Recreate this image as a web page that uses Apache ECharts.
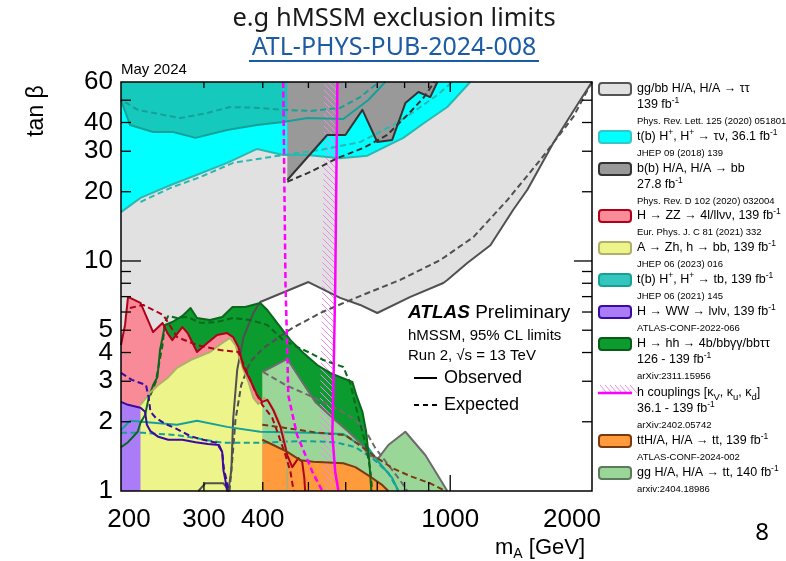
<!DOCTYPE html>
<html>
<head>
<meta charset="utf-8">
<script src="https://cdn.jsdelivr.net/npm/echarts/dist/echarts.min.js"></script>
<style>
html, body { margin: 0; padding: 0; background: #ffffff; }
#main { width: 786px; height: 561px; }
</style>
</head>
<body>
<div id="main"></div>
<script>
// ---------------- data (mA in GeV, tan beta) ----------------
// gg/bb H/A -> tautau, 139 fb-1
const tautauObs = [[2000,60],[1889,50.1],[1655,32.6],[1458,20.4],[1361,16.7],[1217,11.7],[1087,9.80],[986,8.27],[967,8.02],[823,6.98],[700,5.94],[644,6.44],[584,6.91],[500,8.10],[395,6.63],[382,5.94],[364,4.67],[353,3.36],[346,2.04],[343,1.23],[338,1],[336,1.03],[330,1.08],[302,1.08],[292,1]];
const tautauExp = [[2000,60],[1983,58.2],[1825,42.3],[1553,27.5],[1322,18.4],[1120,12.7],[953,10.1],[783,8.27],[651,7.11],[535,6.00],[462,5.11],[401,4.18],[376,3.64],[360,2.89],[350,2.04],[345,1.41],[340,1]];
// t(b) H+, H+ -> tau nu, 36.1 fb-1
const taunuObs = [[200,16.3],[220,18.8],[255,21.4],[290,23.7],[336,26.7],[389,30.7],[442,28.9],[497,28.9],[584,28.0],[667,28.7],[795,34.3],[886,40.2],[986,46.7],[1103,60]];
const taunuExp = [[220,18.05],[255,20.8],[295,23.2],[346,26.7],[401,28.0],[442,28.9],[530,30.4],[644,32.9],[757,39.0],[835,44.4],[939,52.7],[1010,60]];
// t(b) H+, H+ -> tb, 139 fb-1 (high and low tan beta)
const tbHighObs = [[200,50.1],[209,39.0],[234,36.4],[258,36.4],[288,34.3],[336,37.1],[389,39.0],[442,40.2],[497,41.8],[593,41.4],[670,50.1],[728,60]];
const tbHighExp = [[204,49.1],[217,45.4],[267,41.8],[305,44.0],[341,46.7],[395,46.3],[442,45.4],[505,44.9],[584,46.3],[644,51.6],[693,58.2],[707,60]];
const tbLowObs = [[200,1.84],[209,2.02],[234,1.98],[263,1.94],[290,2.02],[336,1.90],[395,1.81],[505,1.79],[593,1.77],[629,1.63],[670,1.54],[704,1.34],[753,1.14],[776,1]];
const tbLowExp = [[200,1.79],[223,1.79],[263,1.75],[330,1.62],[395,1.62],[485,1.65],[570,1.63],[629,1.55],[683,1.39],[739,1.20],[776,1]];
// b(b) H/A, H/A -> bb, 27.8 fb-1
const bbObs = [[451,22.5],[548,35.3],[599,35.3],[651,45.4],[700,32.9],[753,33.6],[803,48.6],[856,54.3],[907,51.6],[939,60]];
const bbExp = [[451,22.1],[505,24.4],[576,28.0],[654,31.0],[735,35.3],[811,43.1],[877,51.1],[925,60]];
// H -> ZZ -> 4l/llvv, 139 fb-1
const zzObs = [[200,4.31],[204,5.27],[207,6.98],[220,6.57],[234,4.91],[245,5.38],[251,4.86],[257,4.53],[270,5.16],[277,4.86],[290,4.02],[305,4.40],[320,4.77],[336,4.86],[346,4.67],[355,4.23],[364,3.46],[376,3.04],[389,2.61],[399,2.44],[409,2.49],[421,2.25],[436,1.90],[451,1.43],[462,1.27],[476,1.39],[485,1.34],[490,1.14],[492,1]];
const zzExp = [[209,6.25],[223,6.44],[246,5.82],[263,4.67],[290,4.31],[325,4.10],[355,4.02],[367,3.43],[386,2.69],[399,2.37],[419,2.08],[432,1.75],[447,1.43],[458,1.21],[464,1.03],[466,1]];
// A -> Zh, h -> bb, 139 fb-1
const zhObs = [[220,1],[220,2.37],[231,2.69],[240,2.89],[251,3.10],[263,3.43],[281,3.71],[309,4.02],[330,4.44],[341,4.63],[350,4.31],[364,3.36],[373,2.98],[382,2.54],[391,2.39],[403,2.54],[415,2.41],[427,2.16],[442,1.81],[451,1.43],[451,1]];
// H -> hh -> 4b/bbyy/bbtautau, 126-139 fb-1
const hhObs = [[200,1.55],[207,1.63],[217,1.81],[220,1.98],[225,2.14],[229,2.54],[234,2.89],[239,3.13],[242,4.10],[245,4.63],[248,5.27],[257,5.43],[270,5.77],[281,6.25],[290,5.65],[309,5.54],[328,5.71],[345,6.31],[367,6.31],[395,6.57],[409,6.12],[429,5.38],[458,4.53],[488,3.98],[522,3.53],[556,3.26],[590,3.10],[620,2.98],[632,2.61],[651,2.21],[663,1.81],[673,1.36],[680,1]];
const hhExp = [[231,2.61],[237,2.98],[240,3.43],[245,4.31],[248,5.43],[252,5.77],[263,5.65],[277,5.71],[295,5.38],[320,5.43],[346,5.65],[376,5.54],[409,5.27],[442,4.53],[473,4.23],[505,3.98],[538,3.71],[593,3.46],[614,2.92],[638,2.10],[660,1.63],[677,1.23],[683,1]];
// H -> WW -> lvlv, 139 fb-1
const wwObs = [[200,2.44],[207,2.37],[220,2.30],[225,2.21],[227,1.94],[231,1.82],[240,1.72],[252,1.67],[270,1.67],[288,1.63],[306,1.60],[323,1.585],[328,1.48],[330,1.23],[333,1.12],[336,1]];
const wwExp = [[200,3.26],[211,3.04],[226,2.89],[229,2.54],[231,2.21],[237,2.08],[248,1.96],[263,1.86],[281,1.73],[299,1.67],[319,1.62],[328,1.48],[331,1.23],[335,1.12],[338,1]];
// ttH/A, H/A -> tt, 139 fb-1
const tthObs = [[399,1],[399,1.67],[421,1.585],[451,1.48],[481,1.36],[512,1.34],[593,1.32],[629,1.27],[670,1.17],[718,1.06],[739,1]];
const tthExp = [[399,1.94],[447,1.88],[525,1.79],[599,1.75],[629,1.63],[693,1.41],[753,1.26],[823,1.16],[907,1.08],[976,1]];
// gg H/A, H/A -> tt, 140 fb-1
const ggttObs = [[399,1],[399,3.29],[451,3.75],[485,2.98],[517,2.44],[562,2.08],[608,1.81],[651,1.585],[670,1.43],[704,1.39],[739,1.585],[803,1.81],[886,1.43],[986,1]];
const ggttExp = [[401,3.29],[447,2.89],[500,2.61],[570,2.30],[629,2.04],[660,1.84],[693,1.54],[739,1.30],[791,1.08],[811,1]];
// h couplings [kV, ku, kd]
const hcoupObs = [[576,60],[570,7.87],[565,2.89],[562,1.75],[570,1.21],[579,1]];
const hcoupExp = [[442,60],[447,7.87],[451,4.02],[453,2.61],[473,1.75],[510,1.21],[535,1]];

// axis ticks and labels
const xTickLabels = [200, 300, 400, 1000, 2000];
const yTickLabels = [1, 2, 3, 4, 5, 10, 20, 30, 40, 60];
const xMinorTicks = [300, 400, 500, 600, 700, 800, 900];
const xMajorTicks = [1000];
const yMinorTicks = [2, 3, 4, 5, 6, 7, 8, 9, 20, 30, 40, 50];
const yMajorTicks = [10];

const X_MIN = 200, X_MAX = 2000, Y_MIN = 1, Y_MAX = 60;
const FF = '"Liberation Sans", Arial, Helvetica, sans-serif';
const TITLE_FF = '"Noto Sans", "Open Sans", sans-serif';

// ---------------- helpers ----------------
function areaSeries(poly, fill, z) {
  return {
    type: 'custom', coordinateSystem: 'cartesian2d', silent: true, z: z,
    data: [poly[0]],
    renderItem: function (params, api) {
      return {
        type: 'polygon',
        shape: { points: poly.map(function (p) { return api.coord(p); }) },
        style: { fill: fill, lineWidth: 0 }
      };
    }
  };
}
function lineSeries(data, color, dashed, width, z) {
  return {
    type: 'line', data: data, symbol: 'none', showSymbol: false, silent: true,
    z: z || 5, clip: true, animation: false,
    lineStyle: { color: color, width: width || 2, type: dashed ? [6, 3.5] : 'solid', cap: 'butt', join: 'round' }
  };
}

// hatch texture for the h-couplings band
const hatch = document.createElement('canvas');
hatch.width = 6; hatch.height = 6;
(function () {
  const c = hatch.getContext('2d');
  c.strokeStyle = '#e78be7'; c.lineWidth = 1;
  c.beginPath();
  c.moveTo(0, 0); c.lineTo(6, 6);
  c.moveTo(-1, 5); c.lineTo(1, 7);
  c.moveTo(5, -1); c.lineTo(7, 1);
  c.stroke();
})();

const C = {
  tautau: '#e1e1e1', tautauLine: '#505050',
  taunu: '#00ffff', taunuLine: '#2ab9b1',
  tb: '#16c9bd', tbLine: '#15a198',
  bb: '#999999', bbLine: '#333333',
  zz: '#f98a97', zzLine: '#b0001a',
  zh: '#edf58a', zhLine: '#b2ae6c',
  hh: '#0b9b2f', hhLine: '#0b671c',
  ww: '#aa7cf8', wwLine: '#3a0b9e',
  tth: '#ff9b3d', tthLine: '#7a3a10',
  ggtt: '#9bd699', ggttLine: '#6c6c6c',
  mag: '#ff00ff'
};

const series = [
  areaSeries([[200,1],[200,60]].concat(tautauObs), C.tautau, 1),
  areaSeries([[200,60]].concat(taunuObs), C.taunu, 1),
  areaSeries([[200,60]].concat(tbHighObs), C.tb, 1),
  areaSeries([[451,60]].concat(bbObs), C.bb, 1),
  areaSeries([[200,1]].concat(tbLowObs), C.tb, 1),
  areaSeries([[200,1]].concat(hhObs), C.hh, 1),
  areaSeries([[200,1]].concat(zzObs), C.zz, 1),
  areaSeries([[200,1]].concat(wwObs), C.ww, 1),
  areaSeries(zhObs, C.zh, 1),
  areaSeries(ggttObs, C.ggtt, 1),
  areaSeries(tthObs, C.tth, 1),
  // hatched band on the excluded side of the h-couplings contour
  {
    type: 'custom', coordinateSystem: 'cartesian2d', silent: true, z: 2,
    data: [hcoupObs[0]],
    renderItem: function (params, api) {
      const pts = hcoupObs.map(function (p) { return api.coord(p); });
      const band = pts.concat(pts.slice().reverse().map(function (p) { return [p[0] - 13, p[1]]; }));
      return { type: 'polygon', shape: { points: band }, style: { fill: { image: hatch, repeat: 'repeat' }, lineWidth: 0 } };
    }
  },
  // expected (dashed) and observed (solid) contours
  lineSeries(tautauExp, C.tautauLine, true),
  lineSeries(tautauObs, C.tautauLine, false),
  lineSeries(taunuExp, C.taunuLine, true),
  lineSeries(taunuObs, C.taunuLine, false),
  lineSeries(tbHighExp, C.tbLine, true),
  lineSeries(tbHighObs, C.tbLine, false),
  lineSeries(bbExp, C.bbLine, true),
  lineSeries(bbObs, C.bbLine, false),
  lineSeries(tbLowExp, C.tbLine, true),
  lineSeries(tbLowObs, C.tbLine, false),
  lineSeries(ggttExp, C.ggttLine, true),
  lineSeries(ggttObs.slice(1), C.ggttLine, false),
  lineSeries(hhExp, C.hhLine, true),
  lineSeries(hhObs, C.hhLine, false),
  lineSeries(zhObs.slice(1), C.zhLine, false),
  lineSeries(zzExp, C.zzLine, true),
  lineSeries(zzObs, C.zzLine, false),
  lineSeries(wwExp, C.wwLine, true),
  lineSeries(wwObs, C.wwLine, false),
  lineSeries(tthExp, C.tthLine, true),
  lineSeries(tthObs.slice(1), C.tthLine, false),
  lineSeries(hcoupExp, C.mag, true, 2.5, 6),
  lineSeries(hcoupObs, C.mag, false, 2.5, 6),
  // frame, ticks and tick labels
  {
    type: 'custom', coordinateSystem: 'cartesian2d', silent: true, z: 10, clip: false,
    data: [[X_MIN, Y_MIN]],
    renderItem: function (params, api) {
      const tl = api.coord([X_MIN, Y_MAX]);
      const br = api.coord([X_MAX, Y_MIN]);
      const kids = [];
      const seg = function (x1, y1, x2, y2) {
        kids.push({ type: 'line', shape: { x1: x1, y1: y1, x2: x2, y2: y2 }, style: { stroke: '#000', lineWidth: 1.3 } });
      };
      kids.push({ type: 'rect', shape: { x: tl[0], y: tl[1], width: br[0] - tl[0], height: br[1] - tl[1] },
        style: { fill: 'none', stroke: '#000', lineWidth: 1.5 } });
      xMinorTicks.forEach(function (v) { const px = api.coord([v, Y_MIN])[0]; seg(px, br[1], px, br[1] - 9); seg(px, tl[1], px, tl[1] + 6); });
      xMajorTicks.forEach(function (v) { const px = api.coord([v, Y_MIN])[0]; seg(px, br[1], px, br[1] - 16); seg(px, tl[1], px, tl[1] + 10); });
      yMinorTicks.forEach(function (v) { const py = api.coord([X_MIN, v])[1]; seg(tl[0], py, tl[0] + 10, py); seg(br[0], py, br[0] - 10, py); });
      yMajorTicks.forEach(function (v) { const py = api.coord([X_MIN, v])[1]; seg(tl[0], py, tl[0] + 20, py); seg(br[0], py, br[0] - 18, py); });
      xTickLabels.forEach(function (v) {
        const px = api.coord([v, Y_MIN])[0];
        const shift = v === X_MIN ? 8 : (v === X_MAX ? -20 : 0);
        kids.push({ type: 'text', x: px + shift, y: br[1] + 29,
          style: { text: String(v), fill: '#000', fontSize: 26, fontFamily: FF, align: 'center', verticalAlign: 'middle' } });
      });
      yTickLabels.forEach(function (v) {
        const py = api.coord([X_MIN, v])[1];
        kids.push({ type: 'text', x: tl[0] - 8, y: py,
          style: { text: String(v), fill: '#000', fontSize: 26, fontFamily: FF, align: 'right', verticalAlign: 'middle' } });
      });
      return { type: 'group', children: kids };
    }
  }
];

// ---------------- legend and annotations ----------------
const rich = {
  sup: { fontSize: 8.5, fontFamily: FF, verticalAlign: 'top', fill: '#000' },
  sub: { fontSize: 9.5, fontFamily: FF, verticalAlign: 'bottom', fill: '#000' },
  b: { fontSize: 19, fontFamily: FF, fontWeight: 'bold', fontStyle: 'italic', fill: '#000' }
};
const legendItems = [
  { y: 89, fill: C.tautau, stroke: '#555555', lines: ['gg/bb H/A, H/A → ττ', '139 fb{sup|-1}'], ref: 'Phys. Rev. Lett. 125 (2020) 051801' },
  { y: 137, fill: C.taunu, stroke: '#33c7c7', lines: ['t(b) H{sup|+}, H{sup|+} → τν, 36.1 fb{sup|-1}'], ref: 'JHEP 09 (2018) 139' },
  { y: 169, fill: C.bb, stroke: '#333333', lines: ['b(b) H/A, H/A → bb', '27.8 fb{sup|-1}'], ref: 'Phys. Rev. D 102 (2020) 032004' },
  { y: 216, fill: C.zz, stroke: C.zzLine, lines: ['H → ZZ → 4l/llνν, 139 fb{sup|-1}'], ref: 'Eur. Phys. J. C 81 (2021) 332' },
  { y: 248, fill: C.zh, stroke: C.zhLine, lines: ['A → Zh, h → bb, 139 fb{sup|-1}'], ref: 'JHEP 06 (2023) 016' },
  { y: 280, fill: '#33c6bd', stroke: C.tbLine, lines: ['t(b) H{sup|+}, H{sup|+} → tb, 139 fb{sup|-1}'], ref: 'JHEP 06 (2021) 145' },
  { y: 312, fill: C.ww, stroke: C.wwLine, lines: ['H → WW → lνlν, 139 fb{sup|-1}'], ref: 'ATLAS-CONF-2022-066' },
  { y: 344, fill: C.hh, stroke: '#0a5a18', lines: ['H → hh → 4b/bbγγ/bbττ', '126 - 139 fb{sup|-1}'], ref: 'arXiv:2311.15956' },
  { y: 393, hatch: true, lines: ['h couplings [κ{sub|V}, κ{sub|u}, κ{sub|d}]', '36.1 - 139 fb{sup|-1}'], ref: 'arXiv:2402.05742' },
  { y: 441, fill: C.tth, stroke: C.tthLine, lines: ['ttH/A, H/A → tt, 139 fb{sup|-1}'], ref: 'ATLAS-CONF-2024-002' },
  { y: 473, fill: C.ggtt, stroke: '#5d7a5d', lines: ['gg H/A, H/A → tt, 140 fb{sup|-1}'], ref: 'arxiv:2404.18986' }
];

const graphics = [];
function addText(x, y, text, size, extra) {
  const st = { text: text, fill: '#000', fontSize: size, fontFamily: FF, align: 'left', verticalAlign: 'middle', rich: rich };
  Object.assign(st, extra || {});
  graphics.push({ type: 'text', x: x, y: y, silent: true, z: 20, style: st });
}
function addLine(x1, y1, x2, y2, color, width, dash) {
  graphics.push({ type: 'line', silent: true, z: 20, shape: { x1: x1, y1: y1, x2: x2, y2: y2 },
    style: { stroke: color, lineWidth: width, lineDash: dash || null } });
}

legendItems.forEach(function (it) {
  if (it.hatch) {
    for (let hx = 600; hx < 632; hx += 5) addLine(hx, it.y - 8, hx + 7, it.y, '#e78be7', 1);
    addLine(598, it.y, 632, it.y, C.mag, 2.5);
  } else {
    graphics.push({ type: 'rect', silent: true, z: 20, shape: { x: 599, y: it.y - 6, width: 32, height: 12, r: 3 },
      style: { fill: it.fill, stroke: it.stroke, lineWidth: 2 } });
  }
  it.lines.forEach(function (t, i) { addText(637, it.y + 16 * i, t, 12.5, { lineHeight: 18 }); });
  addText(637, it.y + 16 * it.lines.length, it.ref, 9.5);
});

// titles
addText(394, 19, 'e.g hMSSM exclusion limits', 25.5, { align: 'center', fontFamily: TITLE_FF, fill: '#1a1a1a' });
addText(394, 48, 'ATL-PHYS-PUB-2024-008', 25, { align: 'center', fontFamily: TITLE_FF, fill: '#1c5ba6' });
addLine(249, 61, 539, 61, '#1c5ba6', 2);
addText(121, 70, 'May 2024', 15);
addText(762, 533, '8', 24, { align: 'center', fontFamily: TITLE_FF });
// axis titles
graphics.push({ type: 'text', x: 37, y: 111, rotation: Math.PI / 2, silent: true, z: 20,
  style: { text: 'tan β', fill: '#000', fontSize: 23, fontFamily: FF, align: 'center', verticalAlign: 'middle' } });
addText(495, 548, 'm{xs|A} [GeV]', 22, { lineHeight: 26, rich: { xs: { fontSize: 14, fontFamily: FF, verticalAlign: 'bottom', fill: '#000' } } });
// experiment label
addText(408, 313, '{b|ATLAS} Preliminary', 19);
addText(408, 336, 'hMSSM, 95% CL limits', 15);
addText(408, 356, 'Run 2, √s = 13 TeV', 15);
addLine(414, 378, 437, 378, '#000', 2);
addText(444, 378, 'Observed', 18);
addLine(414, 405, 437, 405, '#000', 2, [5, 4]);
addText(444, 405, 'Expected', 18);

const chart = echarts.init(document.getElementById('main'), null, { renderer: 'canvas' });
chart.setOption({
  animation: false,
  backgroundColor: '#ffffff',
  grid: { left: 121, right: 194, top: 82, bottom: 70, show: false },
  xAxis: { type: 'log', logBase: 10, min: X_MIN, max: X_MAX,
    axisLine: { show: false }, axisTick: { show: false }, axisLabel: { show: false },
    splitLine: { show: false }, minorTick: { show: false }, minorSplitLine: { show: false } },
  yAxis: { type: 'log', logBase: 10, min: Y_MIN, max: Y_MAX,
    axisLine: { show: false }, axisTick: { show: false }, axisLabel: { show: false },
    splitLine: { show: false }, minorTick: { show: false }, minorSplitLine: { show: false } },
  series: series,
  graphic: { elements: graphics }
});
</script>
</body>
</html>
